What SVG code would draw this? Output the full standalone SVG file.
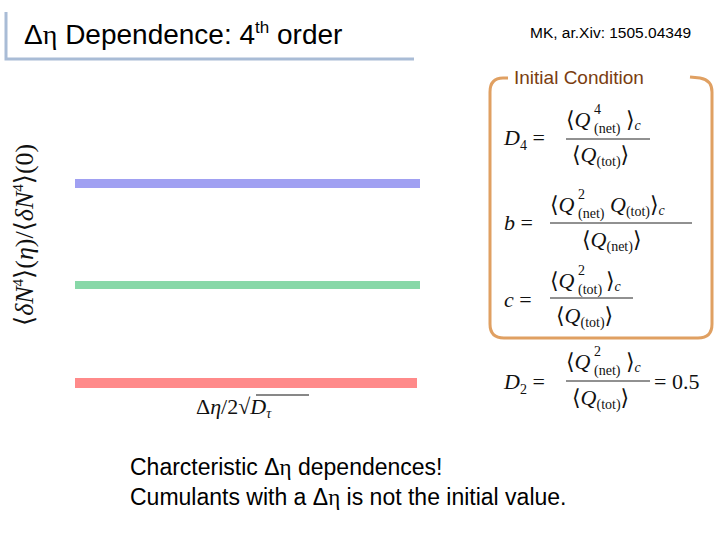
<svg xmlns="http://www.w3.org/2000/svg" width="720" height="540" viewBox="0 0 720 540">
<style>
.s{font-family:"Liberation Sans",Arial,sans-serif;fill:#000}
.m{font-family:"Liberation Serif","DejaVu Serif",serif;fill:#111}
.i{font-style:italic}
.sm{font-size:14px}
.fl{stroke:#222;stroke-width:1}
</style>
<rect width="720" height="540" fill="#fff"/>
<g id="title">
<path d="M6 12 V59 H414" fill="none" stroke="#a9bcd6" stroke-width="3"/>
<text x="24" y="44" class="s" font-size="28">Δ<tspan font-family="Liberation Serif,serif">η</tspan> Dependence: 4<tspan font-size="17" dy="-11">th</tspan><tspan dy="11"> order</tspan></text>
</g>
<text x="530" y="38" class="s" font-size="15.5">MK, ar.Xiv: 1505.04349</text>
<g id="ylabel">
<text transform="translate(33,326) rotate(-90)" class="m" font-size="26">⟨<tspan class="i">δN</tspan><tspan font-size="15" dy="-10">4</tspan><tspan dy="10">⟩(</tspan><tspan class="i">η</tspan>)/⟨<tspan class="i">δN</tspan><tspan font-size="15" dy="-10">4</tspan><tspan dy="10">⟩(0)</tspan></text>
</g>
<g id="bars">
<rect x="75" y="179" width="345" height="9" fill="#a0a0f2"/>
<rect x="75" y="281" width="345" height="8" fill="#88d8a8"/>
<rect x="75" y="378" width="342" height="10" fill="#ff8a8a"/>
</g>
<g id="xlabel">
<text x="196" y="414" class="m" font-size="22">Δ<tspan class="i">η</tspan>/2√<tspan class="i">D</tspan><tspan class="i" font-size="14" dy="4">τ</tspan></text>
<line x1="256" y1="395" x2="309" y2="395" stroke="#111" stroke-width="1"/>
</g>
<g id="ic">
<path d="M508 78 H503 Q490 78 490 92 V324 Q490 338 504 338 H698 Q712 338 712 324 V92 Q712 80 700 78 L690 77" fill="none" stroke="#e0a062" stroke-width="3"/>
<text x="514" y="84" class="s" font-size="19" style="fill:#7a3d10">Initial Condition</text>
</g>
<g id="formulas" class="m" font-size="22">
<text x="504" y="145"><tspan class="i">D</tspan><tspan class="sm" dy="5">4</tspan><tspan dy="-5"> =</tspan></text>
<text x="566" y="127">⟨<tspan class="i">Q</tspan></text>
<text x="594" y="114" class="sm">4</text><text x="594" y="133" class="sm">(net)</text>
<text x="626" y="127">⟩<tspan class="sm i" dy="3">c</tspan></text>
<line class="fl" x1="566" y1="139" x2="650" y2="139"/>
<text x="572" y="162">⟨<tspan class="i">Q</tspan><tspan class="sm" dy="4">(tot)</tspan><tspan dy="-4">⟩</tspan></text>

<text x="504" y="230"><tspan class="i">b</tspan> =</text>
<text x="550" y="212">⟨<tspan class="i">Q</tspan></text>
<text x="578" y="199" class="sm">2</text><text x="578" y="218" class="sm">(net)</text>
<text x="610" y="212"><tspan class="i">Q</tspan><tspan class="sm" dy="4">(tot)</tspan><tspan dy="-4">⟩</tspan><tspan class="sm i" dy="3">c</tspan></text>
<line class="fl" x1="550" y1="223" x2="692" y2="223"/>
<text x="582" y="247">⟨<tspan class="i">Q</tspan><tspan class="sm" dy="4">(net)</tspan><tspan dy="-4">⟩</tspan></text>

<text x="504" y="307"><tspan class="i">c</tspan> =</text>
<text x="550" y="288">⟨<tspan class="i">Q</tspan></text>
<text x="578" y="275" class="sm">2</text><text x="578" y="294" class="sm">(tot)</text>
<text x="606" y="288">⟩<tspan class="sm i" dy="3">c</tspan></text>
<line class="fl" x1="550" y1="298" x2="633" y2="298"/>
<text x="556" y="323">⟨<tspan class="i">Q</tspan><tspan class="sm" dy="4">(tot)</tspan><tspan dy="-4">⟩</tspan></text>

<text x="504" y="389"><tspan class="i">D</tspan><tspan class="sm" dy="5">2</tspan><tspan dy="-5"> =</tspan></text>
<text x="566" y="369">⟨<tspan class="i">Q</tspan></text>
<text x="594" y="356" class="sm">2</text><text x="594" y="375" class="sm">(net)</text>
<text x="626" y="369">⟩<tspan class="sm i" dy="3">c</tspan></text>
<line class="fl" x1="566" y1="381" x2="650" y2="381"/>
<text x="572" y="405">⟨<tspan class="i">Q</tspan><tspan class="sm" dy="4">(tot)</tspan><tspan dy="-4">⟩</tspan></text>
<text x="654" y="389">= 0.5</text>
</g>
<g id="notes" class="s" font-size="23">
<text x="130" y="475">Charcteristic Δ<tspan font-family="Liberation Serif,serif">η</tspan> dependences!</text>
<text x="130" y="505">Cumulants with a Δ<tspan font-family="Liberation Serif,serif">η</tspan> is not the initial value.</text>
</g>
</svg>
